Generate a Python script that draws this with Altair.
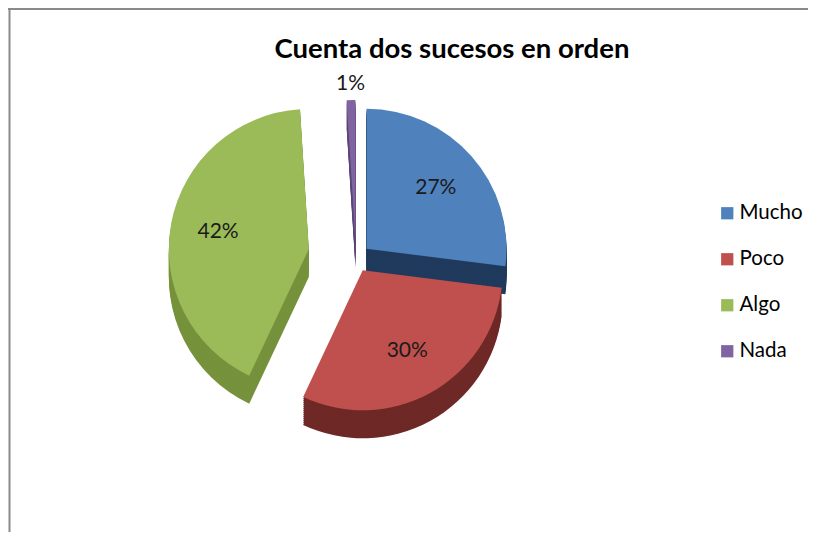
import altair as alt
import pandas as pd

# ---- data ----
categories = ["Mucho", "Poco", "Algo", "Nada"]
percent = [27, 30, 42, 1]
labels = ["27%", "30%", "42%", "1%"]

# ---- styles ----
top_colors = ["#4F81BD", "#C0504D", "#9BBB59", "#8064A2"]
side_colors = ["#1F3A5C", "#6E2826", "#76923C", "#5C4778"]
explode = {"Mucho": 14, "Poco": 14, "Algo": 48, "Nada": 18}
CX, CY, R, DEPTH = 348, 250, 140, 28
W, H = 800, 524

df = pd.DataFrame({
    "cat": categories,
    "value": percent,
    "label": labels,
    "order": list(range(len(categories))),
    "side": side_colors,
    "explode": [explode[c] for c in categories],
})

base = (
    alt.Chart(df)
    .transform_window(cum="sum(value)", sort=[alt.SortField("order")], frame=[None, 0])
    .transform_joinaggregate(total="sum(value)")
    .transform_calculate(
        a0="2*PI*(datum.cum - datum.value)/datum.total",
        a1="2*PI*datum.cum/datum.total",
    )
    .transform_calculate(mid="(datum.a0 + datum.a1)/2")
    .transform_calculate(
        px=f"{CX} + datum.explode*sin(datum.mid)",
        py=f"{CY} - datum.explode*cos(datum.mid)",
    )
)

layers = []
for d in range(DEPTH, 0, -2):
    layers.append(
        base.transform_calculate(pyd=f"datum.py + {d}")
        .mark_arc(radius=R)
        .encode(
            theta=alt.Theta("a0:Q", scale=None),
            theta2="a1:Q",
            x=alt.X("px:Q", scale=None),
            y=alt.Y("pyd:Q", scale=None),
            fill=alt.Fill("side:N", scale=None),
        )
    )

top = base.mark_arc(radius=R).encode(
    theta=alt.Theta("a0:Q", scale=None),
    theta2="a1:Q",
    x=alt.X("px:Q", scale=None),
    y=alt.Y("py:Q", scale=None),
    color=alt.Color(
        "cat:N",
        scale=alt.Scale(domain=categories, range=top_colors),
        sort=categories,
        legend=alt.Legend(
            title=None,
            orient="none",
            legendX=709,
            legendY=195,
            symbolType="square",
            symbolSize=150,
            symbolStrokeWidth=0,
            labelFont="Lato",
            labelFontSize=20.5,
            labelColor="#000000",
            rowPadding=25,
            labelOffset=2,
        ),
    ),
)

text = (
    base.transform_calculate(
        lr=f"datum.value < 5 ? {R} + 16 : {R} * 0.66"
    )
    .transform_calculate(
        tx="datum.px + datum.lr*sin(datum.mid)",
        ty="datum.py - datum.lr*cos(datum.mid)",
    )
    .mark_text(font="Lato", fontSize=21, color="#1a1a1a")
    .encode(
        x=alt.X("tx:Q", scale=None),
        y=alt.Y("ty:Q", scale=None),
        text="label:N",
    )
)

title = (
    alt.Chart(pd.DataFrame({"t": ["Cuenta dos sucesos en orden"]}))
    .mark_text(font="Lato", fontSize=27.5, fontWeight="bold", color="#000000")
    .encode(x=alt.value(444), y=alt.value(42), text="t:N")
)

one = pd.DataFrame({"k": [0]})
border_left = alt.Chart(one).mark_rule(color="#8a8a8a", strokeWidth=2).encode(
    x=alt.value(1.5), y=alt.value(0), y2=alt.value(H)
)
border_top = alt.Chart(one).mark_rule(color="#8a8a8a", strokeWidth=2).encode(
    x=alt.value(0), x2=alt.value(W), y=alt.value(1)
)

chart = (
    alt.layer(*layers, top, text, title, border_left, border_top)
    .properties(width=W, height=H, padding=0, autosize="none")
    .configure_view(stroke=None)
)

chart.save("out.html", embed_options={"renderer": "svg", "actions": False})
